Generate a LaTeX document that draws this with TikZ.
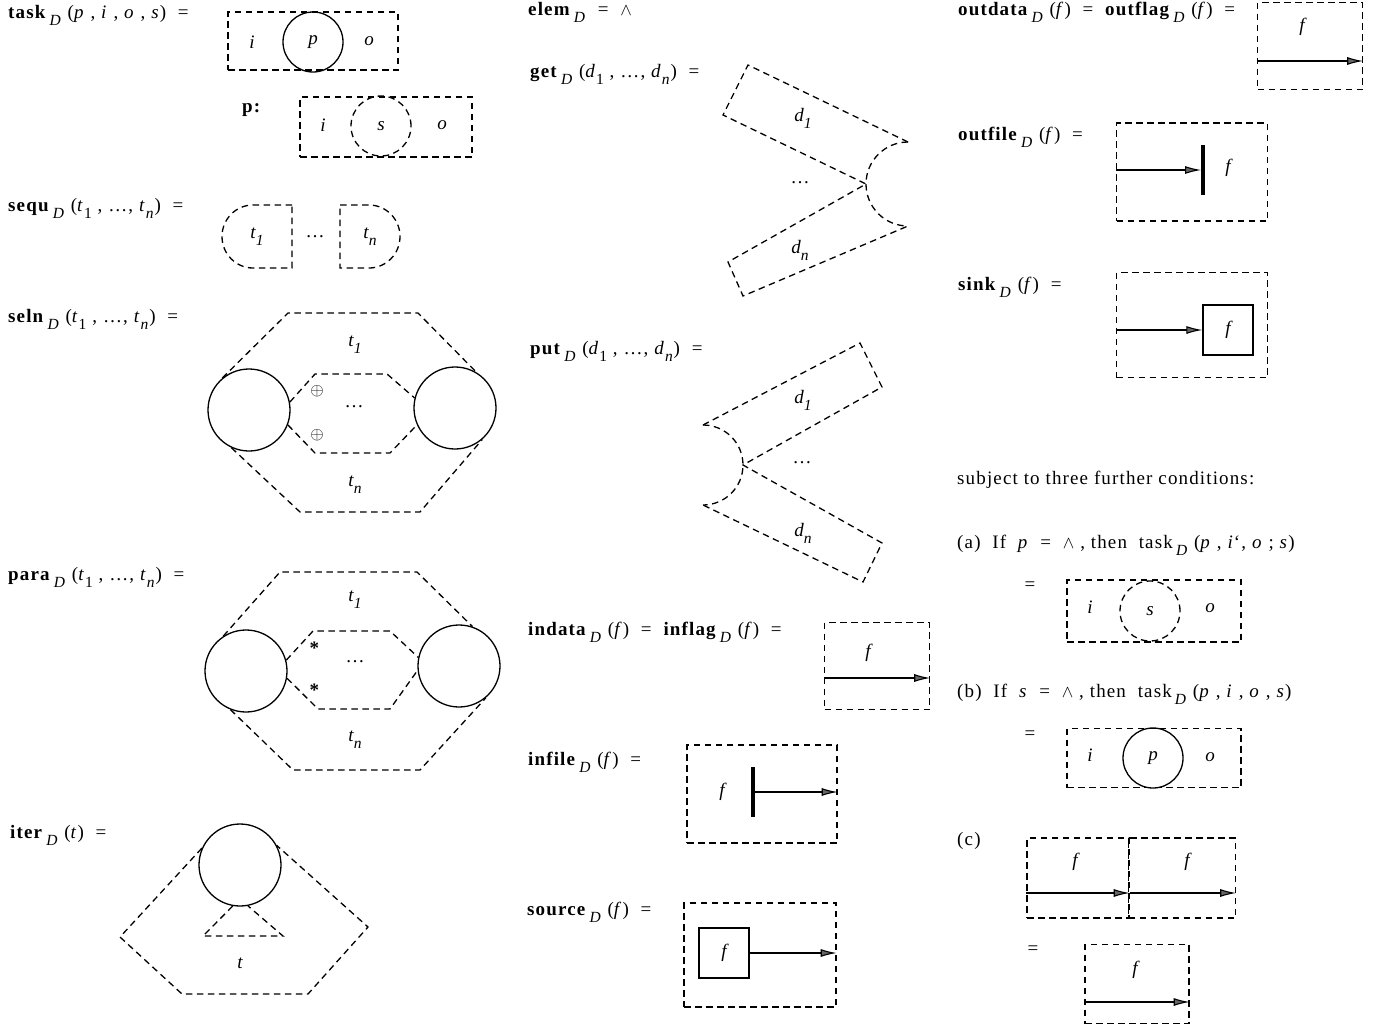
\documentclass[tikz,border=0pt]{standalone}
\usepackage{fontspec}
\setmainfont{Liberation Serif}[LetterSpace=6]
\usetikzlibrary{arrows.meta,positioning}

\newcommand{\lowr}[1]{\raisebox{-7pt}{\fontsize{15.5}{18}\selectfont #1}}
\newcommand{\fnD}[1]{\textbf{#1}\,\lowr{\textit{D}}}
\newcommand{\ix}[2]{\textit{#1}\lowr{\textit{#2}}}

\begin{document}
\begin{tikzpicture}[
    x=1pt, y=-1pt, % one unit per pixel of the page, y running down
    font=\fontsize{19}{22}\selectfont,
    lbl/.style={anchor=base west, inner sep=0pt},
    txt/.style={inner sep=0pt, font=\fontsize{19}{22}\selectfont\itshape},
    dline/.style={line width=1.3pt, dash pattern=on 6.5pt off 4.5pt},
    dbox/.style={rectangle, draw, dline, inner sep=0pt},
    ring/.style={circle, draw, line width=1.3pt, inner sep=0pt, minimum size=60pt, font=\fontsize{19}{22}\selectfont\itshape},
    dring/.style={ring, dline},
    bigring/.style={ring, minimum size=82pt},
    fbox/.style={rectangle, draw, line width=1.3pt, inner sep=0pt, minimum size=50pt, font=\fontsize{19}{22}\selectfont\itshape},
    fbar/.style={rectangle, fill=black, inner sep=0pt, minimum width=3.5pt, minimum height=50pt},
    arr/.style={line width=1.1pt, -{Latex[length=16pt,width=8pt,fill=black!60]}}
  ]
  \useasboundingbox (0,0) rectangle (1376,1028);

  % task
  \node[lbl] (Ltask) at (8,18) {\fnD{task} (\textit{p} , \textit{i} , \textit{o} , \textit{s})\ \ =};
  \node[dbox, minimum width=170pt, minimum height=58pt] (tk) at (313,41) {};
  \node[ring] (tkp) at (313,42) {p};
  \node[txt] (tki) at (252,42) {i};
  \node[txt] (tko) at (369,41) {o};
  \node[lbl, font=\fontsize{19}{22}\selectfont\bfseries] (Lp) at (242,112) {p:};
  \node[dbox, minimum width=172pt, minimum height=60pt] (tk2) at (386,127) {};
  \node[dring] (tks) at (381,126) {s};
  \node[txt] (tk2i) at (323,125) {i};
  \node[txt] (tk2o) at (442,125) {o};

  % sequ
  \node[lbl] (Lsequ) at (8,211) {\fnD{sequ} (\textit{t}\lowr{1} , \dots , \textit{t}\lowr{\textit{n}})\ \ =};
  \draw[dline] (292,205) -- (253,205) .. controls (236,205) and (222,219) .. (222,236.5)
    .. controls (222,254) and (236,268) .. (253,268) -- (292,268) -- cycle;
  \draw[dline] (340,205) -- (369,205) .. controls (386,205) and (400,219) .. (400,236.5)
    .. controls (400,254) and (386,268) .. (369,268) -- (340,268) -- cycle;
  \node[txt] (sq1) at (257,237) {\ix{t}{1}};
  \node (sqd) at (315,237) {\dots};
  \node[txt] (sqn) at (370,237) {\ix{t}{n}};

  % seln
  \node[lbl] (Lseln) at (8,322) {\fnD{seln} (\textit{t}\lowr{1} , \dots , \textit{t}\lowr{\textit{n}})\ \ =};
  \node[bigring] (sl) at (249,410) {};
  \node[bigring] (sr) at (455,408) {};
  \draw[dline] (sl.130) -- (288,313) -- (418,313) -- (sr.59);
  \draw[dline] (sl.245) -- (300,512) -- (420,512) -- (sr.311);
  \draw[dline] (sl.11) -- (315,374) -- (387,374) -- (sr.166);
  \draw[dline] (sl.339) -- (315,453) -- (390,453) -- (sr.204);
  \node[txt] (sl1) at (355,345) {\ix{t}{1}};
  \node[txt] (sln) at (355,485) {\ix{t}{n}};
  \node (slo1) at (317,391) {$\oplus$};
  \node (slo2) at (317,435) {$\oplus$};
  \node (sld) at (354,407) {\dots};

  % para
  \node[lbl] (Lpara) at (8,580) {\fnD{para} (\textit{t}\lowr{1} , \dots , \textit{t}\lowr{\textit{n}})\ \ =};
  \node[bigring] (pl) at (246,671) {};
  \node[bigring] (pr) at (459,666) {};
  \draw[dline] (pl.123) -- (280,572) -- (417,572) -- (pr.71);
  \draw[dline] (pl.248) -- (293,770) -- (420,770) -- (pr.310);
  \draw[dline] (pl.15) -- (313,631) -- (390,631) -- (pr.168);
  \draw[dline] (pl.350) -- (318,709) -- (390,709) -- (pr.186);
  \node[txt] (pa1) at (355,600) {\ix{t}{1}};
  \node[txt] (pan) at (355,740) {\ix{t}{n}};
  \node (pas1) at (315,648) {\textbf{*}};
  \node (pas2) at (315,690) {\textbf{*}};
  \node (pad) at (355,662) {\dots};

  % iter
  \node[lbl] (Liter) at (10,838) {\fnD{iter} (\textit{t})\ \ =};
  \node[bigring] (it) at (240,865) {};
  \draw[dline] (it.156) -- (120,937) -- (182,994) -- (308,994) -- (368,927) -- (it.28);
  \draw[dline] (it.260) -- (203,936) -- (283,936) -- (it.281);
  \node[txt] (itt) at (240,963) {t};

  % elem, get, put
  \node[lbl] (Lelem) at (528,15) {\textbf{elem}\,\lowr{\textit{D}}\ \ =\ \ $\wedge$};
  \node[lbl] (Lget) at (530,77) {\fnD{get} (\textit{d}\lowr{1} , \dots , \textit{d}\lowr{\textit{n}})\ \ =};
  \draw[dline] (908,142) -- (748,65) -- (723,115) -- (866,184) -- (728,262) -- (743,296) -- (908,226);
  \draw[dline] (908,142) arc[start angle=-90, end angle=-270, radius=42];
  \node[txt] (g1) at (803,118) {\ix{d}{1}};
  \node (gd) at (800,183) {\dots};
  \node[txt] (gn) at (800,250) {\ix{d}{n}};

  \node[lbl] (Lput) at (530,354) {\fnD{put} (\textit{d}\lowr{1} , \dots , \textit{d}\lowr{\textit{n}})\ \ =};
  \draw[dline] (703,425) -- (860,343) -- (882,387) -- (743,465) -- (882,543) -- (863,582) -- (703,505);
  \draw[dline] (703,425) arc[start angle=-90, end angle=90, radius=40];
  \node[txt] (p1) at (803,400) {\ix{d}{1}};
  \node (pd) at (802,463) {\dots};
  \node[txt] (pn) at (803,533) {\ix{d}{n}};

  % indata, infile, source
  \node[lbl] (Lind) at (528,635) {\fnD{indata} (\textit{f})\ \ =\ \ \fnD{inflag} (\textit{f})\ \ =};
  \node[dbox, minimum width=105pt, minimum height=87pt] (ind) at (877,666) {};
  \node[txt] (indf) at (868,653) {f};
  \coordinate (inda) at ([yshift=-12pt]ind.west);
  \draw[arr] (inda) -- (inda -| ind.east);

  \node[lbl] (Linf) at (528,765) {\fnD{infile} (\textit{f})\ \ =};
  \node[dbox, minimum width=150pt, minimum height=98pt] (inf) at (762,794) {};
  \node[txt] (inff) at (722,792) {f};
  \node[fbar] (infbar) at (753,792) {};
  \draw[arr] (infbar.east) -- (infbar.east -| inf.east);

  \node[lbl] (Lsrc) at (527,915) {\fnD{source} (\textit{f})\ \ =};
  \node[dbox, minimum width=152pt, minimum height=104pt] (src) at (760,955) {};
  \node[fbox] (srcf) at (724,953) {f};
  \draw[arr] (srcf.east) -- (srcf.east -| src.east);

  % outdata, outfile, sink
  \node[lbl] (Loutd) at (958,15) {\fnD{outdata} (\textit{f})\ \ =\ \ \fnD{outflag} (\textit{f})\ \ =};
  \node[dbox, minimum width=105pt, minimum height=87pt] (outd) at (1310,46) {};
  \node[txt] (outdf) at (1302,27) {f};
  \coordinate (outda) at ([yshift=-15pt]outd.west);
  \draw[arr] (outda) -- (outda -| outd.east);

  \node[lbl] (Loutf) at (958,140) {\fnD{outfile} (\textit{f})\ \ =};
  \node[dbox, minimum width=151pt, minimum height=98pt] (outf) at (1192,172) {};
  \node[fbar] (outfbar) at (1203,170) {};
  \node[txt] (outff) at (1228,168) {f};
  \draw[arr] (outfbar.west -| outf.west) -- (outfbar.west);

  \node[lbl] (Lsink) at (958,290) {\fnD{sink} (\textit{f})\ \ =};
  \node[dbox, minimum width=151pt, minimum height=105pt] (sink) at (1192,325) {};
  \node[fbox] (sinkf) at (1228,330) {f};
  \draw[arr] (sinkf.west -| sink.west) -- (sinkf.west);

  % further conditions
  \node[lbl] (Lsub) at (957,484) {subject to three further conditions:};

  \node[lbl] (La) at (957,548) {(a)\ \ If\ \ \textit{p}\ \ =\ \ $\wedge$ , then\ \ task\,\lowr{\textit{D}} (\textit{p} , \textit{i}`, \textit{o} ; \textit{s})};
  \node (eqa) at (1030,586) {=};
  \node[dbox, minimum width=174pt, minimum height=62pt] (ca) at (1154,611) {};
  \node[dring] (cas) at (1150,611) {s};
  \node[txt] (cai) at (1090,607) {i};
  \node[txt] (cao) at (1210,608) {o};

  \node[lbl] (Lb) at (957,697) {(b)\ \ If\ \ \textit{s}\ \ =\ \ $\wedge$ , then\ \ task\,\lowr{\textit{D}} (\textit{p} , \textit{i} , \textit{o} , \textit{s})};
  \node (eqb) at (1030,735) {=};
  \node[dbox, minimum width=174pt, minimum height=59pt] (cb) at (1154,758) {};
  \node[ring] (cbp) at (1153,758) {p};
  \node[txt] (cbi) at (1090,755) {i};
  \node[txt] (cbo) at (1210,757) {o};

  \node[lbl] (Lc) at (957,845) {(c)};
  \node[dbox, minimum width=102pt, minimum height=80pt] (cc1) at (1078,878) {};
  \node[dbox, minimum width=107pt, minimum height=80pt] (cc2) at (1182,878) {};
  \node[txt] (cc1f) at (1075,862) {f};
  \node[txt] (cc2f) at (1187,862) {f};
  \coordinate (cca) at ([yshift=-15pt]cc1.west);
  \coordinate (ccb) at (cca -| cc1.east);
  \draw[arr] (cca) -- (ccb);
  \draw[arr] (ccb) -- (ccb -| cc2.east);
  \node (eqc) at (1033,950) {=};
  \node[dbox, minimum width=104pt, minimum height=79pt] (cc3) at (1137,984) {};
  \node[txt] (cc3f) at (1135,970) {f};
  \coordinate (ccc) at ([yshift=-18pt]cc3.west);
  \draw[arr] (ccc) -- (ccc -| cc3.east);
\end{tikzpicture}
\end{document}
